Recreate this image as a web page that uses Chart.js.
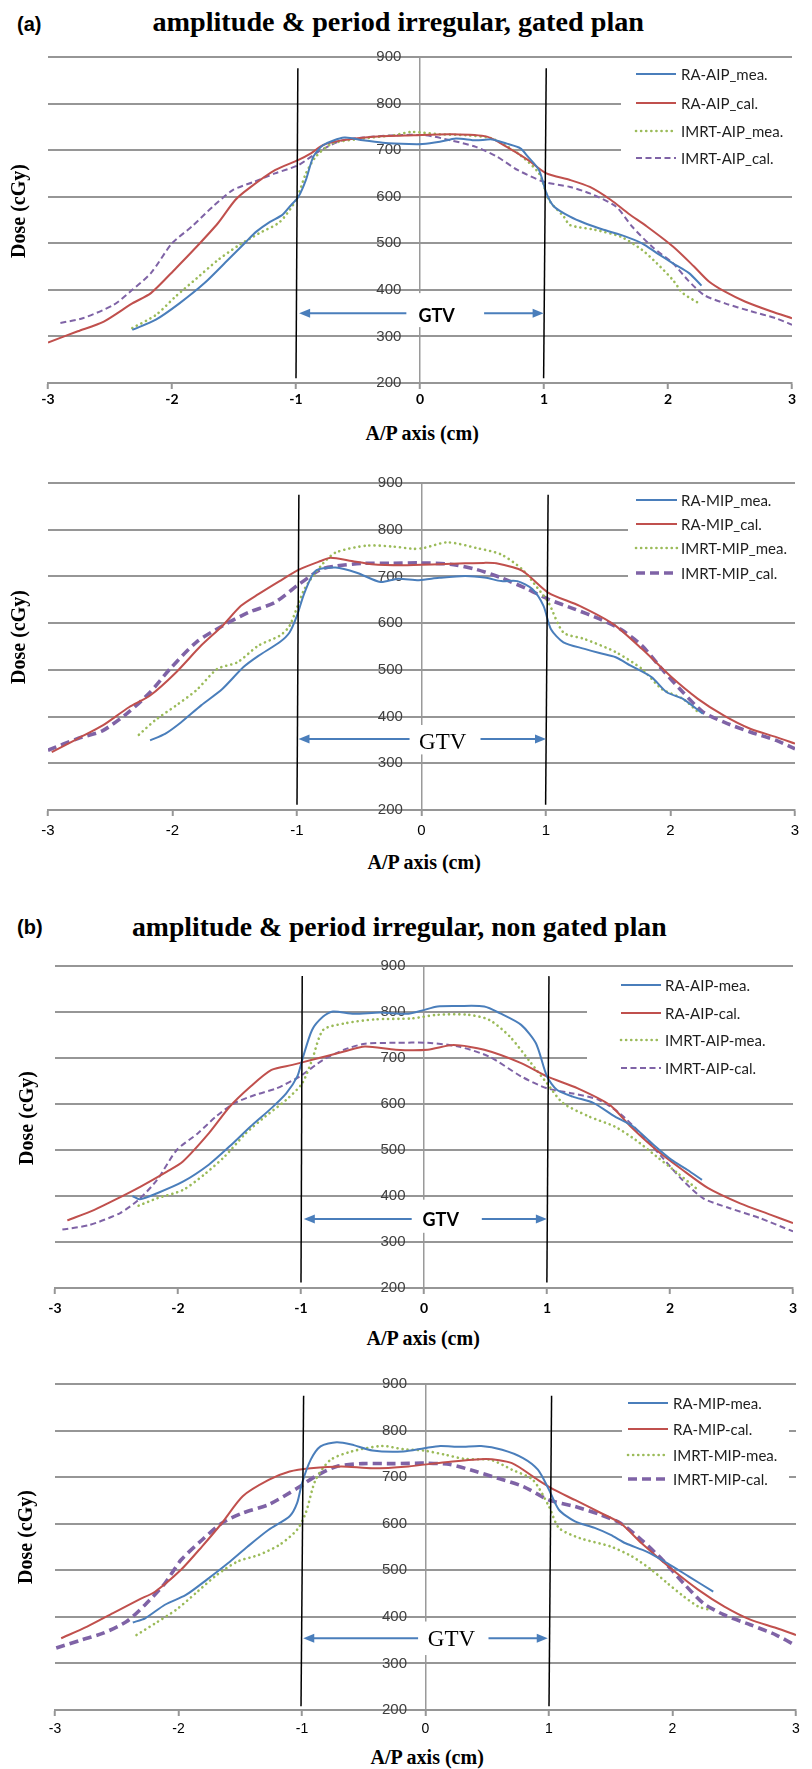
<!DOCTYPE html>
<html><head><meta charset="utf-8">
<script src="https://cdn.jsdelivr.net/npm/chart.js@4.4.0/dist/chart.umd.min.js"></script>
<style>
html,body{margin:0;padding:0;background:#fff;}
#page{position:relative;width:812px;height:1769px;overflow:hidden;background:#fff;}
canvas{position:absolute;left:0;}
.lbl{position:absolute;white-space:nowrap;color:#000;line-height:1;}
.tag{font-family:"Liberation Sans",Arial,sans-serif;font-weight:bold;font-size:20px;}
.title{font-family:"Liberation Serif","Times New Roman",serif;font-weight:bold;font-size:28px;}
.axt{font-family:"Liberation Serif","Times New Roman",serif;font-weight:bold;font-size:20px;}
</style></head>
<body><div id="page"></div>
<script>
// ---------- tick labels ----------
const xTickValues = [-3, -2, -1, 0, 1, 2, 3];
const yTickValues = [200, 300, 400, 500, 600, 700, 800, 900];

// ---------- series names ----------
const labelsA1 = ['RA-AIP_mea.', 'RA-AIP_cal.', 'IMRT-AIP_mea.', 'IMRT-AIP_cal.'];
const labelsA2 = ['RA-MIP_mea.', 'RA-MIP_cal.', 'IMRT-MIP_mea.', 'IMRT-MIP_cal.'];
const labelsB1 = ['RA-AIP-mea.', 'RA-AIP-cal.', 'IMRT-AIP-mea.', 'IMRT-AIP-cal.'];
const labelsB2 = ['RA-MIP-mea.', 'RA-MIP-cal.', 'IMRT-MIP-mea.', 'IMRT-MIP-cal.'];

// ---------- (a) gated, AIP : [position cm, dose cGy] ----------
const a1Blue = [[-2.32,314],[-2.13,336],[-1.94,371],[-1.74,414],[-1.55,464],[-1.40,504],[-1.32,525],[-1.21,546],[-1.11,561],[-1.05,579],[-0.98,600],[-0.92,636],[-0.86,686],[-0.78,711],[-0.61,727],[-0.46,721],[-0.30,716],[-0.09,713],[0.02,713],[0.16,718],[0.29,725],[0.45,721],[0.58,723],[0.70,714],[0.81,704],[0.87,686],[0.96,657],[1.02,607],[1.08,579],[1.21,557],[1.33,543],[1.48,529],[1.62,518],[1.79,500],[1.91,479],[2.04,457],[2.17,436],[2.27,409]];
const a1Red = [[-3.0,287],[-2.76,311],[-2.55,332],[-2.32,371],[-2.17,393],[-1.97,446],[-1.80,493],[-1.63,543],[-1.49,593],[-1.38,618],[-1.17,657],[-0.98,679],[-0.88,693],[-0.78,711],[-0.63,721],[-0.38,729],[-0.05,732],[0.25,734],[0.54,729],[0.70,707],[0.87,679],[1.02,650],[1.21,636],[1.37,621],[1.54,593],[1.68,564],[1.83,536],[2.04,493],[2.21,450],[2.33,418],[2.46,396],[2.62,375],[2.83,354],[3.0,339]];
const a1Green = [[-2.32,318],[-2.13,346],[-1.97,386],[-1.80,425],[-1.63,464],[-1.46,496],[-1.30,521],[-1.13,546],[-1.0,593],[-0.92,650],[-0.84,686],[-0.71,714],[-0.46,725],[-0.21,732],[-0.07,739],[0.16,734],[0.37,732],[0.58,725],[0.79,693],[0.96,650],[1.04,593],[1.16,557],[1.21,539],[1.41,529],[1.62,514],[1.79,486],[1.91,457],[2.04,421],[2.12,393],[2.25,371]];
const a1Purple = [[-2.90,329],[-2.72,339],[-2.47,368],[-2.32,400],[-2.17,436],[-2.0,500],[-1.84,536],[-1.67,579],[-1.51,614],[-1.34,632],[-1.17,650],[-0.98,668],[-0.80,700],[-0.63,721],[-0.46,727],[-0.21,732],[0.04,732],[0.25,721],[0.45,707],[0.62,686],[0.79,657],[1.0,632],[1.21,621],[1.37,607],[1.58,579],[1.71,536],[1.87,493],[2.04,457],[2.16,421],[2.29,389],[2.46,371],[2.67,354],[2.87,339],[3.0,325]];

// ---------- (a) gated, MIP ----------
const a2Blue = [[-2.18,349],[-2.06,363],[-1.93,388],[-1.77,424],[-1.60,459],[-1.43,506],[-1.31,530],[-1.14,559],[-1.06,580],[-1.0,616],[-0.94,665],[-0.85,712],[-0.69,719],[-0.52,708],[-0.33,688],[-0.19,695],[-0.02,692],[0.14,697],[0.35,701],[0.52,697],[0.64,690],[0.77,690],[0.89,673],[0.98,637],[1.04,587],[1.14,559],[1.31,545],[1.43,536],[1.56,527],[1.68,509],[1.85,484],[1.97,452],[2.10,438],[2.26,406]];
const a2Red = [[-2.97,324],[-2.76,353],[-2.56,381],[-2.35,420],[-2.18,445],[-1.97,495],[-1.77,552],[-1.60,594],[-1.45,637],[-1.31,662],[-1.14,690],[-0.98,715],[-0.81,733],[-0.73,740],[-0.56,733],[-0.40,726],[-0.15,724],[0.14,726],[0.35,728],[0.50,729],[0.60,728],[0.81,712],[1.02,665],[1.27,637],[1.54,598],[1.77,545],[2.01,484],[2.22,438],[2.43,402],[2.64,374],[2.85,356],[3.0,342]];
const a2Green = [[-2.27,361],[-2.14,392],[-1.97,424],[-1.81,456],[-1.64,502],[-1.48,516],[-1.31,552],[-1.14,573],[-1.06,594],[-0.94,673],[-0.81,722],[-0.69,751],[-0.44,766],[-0.23,764],[-0.06,759],[0.02,761],[0.21,773],[0.44,761],[0.64,747],[0.81,715],[0.93,676],[1.02,644],[1.14,580],[1.31,566],[1.56,538],[1.77,502],[1.93,459],[2.10,438],[2.22,410]];
const a2Purple = [[-3.0,328],[-2.76,353],[-2.56,370],[-2.35,410],[-2.18,452],[-2.02,502],[-1.81,559],[-1.60,594],[-1.39,623],[-1.18,644],[-1.0,680],[-0.81,715],[-0.69,722],[-0.48,728],[-0.23,728],[-0.02,729],[0.23,726],[0.44,715],[0.64,697],[0.85,673],[1.02,651],[1.23,630],[1.43,609],[1.60,587],[1.77,552],[1.93,502],[2.10,452],[2.26,410],[2.43,388],[2.64,367],[2.85,349],[3.0,331]];

// ---------- (b) non gated, AIP ----------
const b1Blue = [[-2.37,400],[-2.31,393],[-2.17,406],[-1.96,431],[-1.75,468],[-1.58,508],[-1.41,551],[-1.24,591],[-1.12,623],[-1.03,660],[-0.99,696],[-0.91,761],[-0.82,790],[-0.74,801],[-0.57,796],[-0.36,799],[-0.14,796],[-0.02,803],[0.11,812],[0.28,813],[0.49,812],[0.62,797],[0.79,772],[0.91,732],[1.0,660],[1.08,631],[1.21,616],[1.38,602],[1.55,573],[1.70,551],[1.85,515],[2.01,479],[2.14,457],[2.26,435]];
const b1Red = [[-2.90,347],[-2.68,370],[-2.51,392],[-2.30,421],[-2.09,453],[-1.96,475],[-1.75,536],[-1.58,594],[-1.41,638],[-1.24,674],[-1.07,685],[-0.91,696],[-0.65,714],[-0.48,725],[-0.23,718],[0.03,718],[0.24,728],[0.49,718],[0.79,689],[1.0,660],[1.25,634],[1.51,598],[1.68,551],[1.89,500],[2.10,457],[2.31,417],[2.57,384],[2.82,359],[3.0,341]];
const b1Green = [[-2.32,379],[-2.17,395],[-1.96,413],[-1.79,446],[-1.62,486],[-1.45,536],[-1.29,573],[-1.12,609],[-0.99,645],[-0.91,696],[-0.82,761],[-0.65,775],[-0.40,784],[-0.10,786],[0.11,794],[0.36,794],[0.53,783],[0.70,746],[0.87,689],[1.0,645],[1.13,602],[1.34,573],[1.55,551],[1.72,522],[1.89,486],[2.06,450],[2.23,413]];
const b1Purple = [[-2.94,327],[-2.72,337],[-2.47,363],[-2.32,392],[-2.17,435],[-2.01,500],[-1.84,536],[-1.69,573],[-1.54,602],[-1.37,620],[-1.20,634],[-1.01,660],[-0.82,696],[-0.65,718],[-0.48,731],[-0.23,733],[0.03,733],[0.28,725],[0.53,703],[0.79,660],[1.0,634],[1.21,623],[1.42,609],[1.59,580],[1.76,536],[1.93,486],[2.10,435],[2.27,395],[2.48,374],[2.73,352],[3.0,323]];

// ---------- (b) non gated, MIP ----------
const b2Blue = [[-2.37,388],[-2.27,397],[-2.11,426],[-1.94,447],[-1.77,480],[-1.60,515],[-1.44,551],[-1.27,587],[-1.10,616],[-1.04,644],[-1.0,687],[-0.93,737],[-0.85,766],[-0.72,775],[-0.60,770],[-0.43,757],[-0.18,755],[-0.01,762],[0.12,767],[0.28,765],[0.45,767],[0.62,759],[0.79,741],[0.91,716],[1.0,673],[1.08,630],[1.21,605],[1.37,591],[1.50,576],[1.62,558],[1.79,540],[1.96,515],[2.13,487],[2.33,454]];
const b2Red = [[-2.95,354],[-2.74,379],[-2.53,408],[-2.32,437],[-2.19,454],[-1.98,501],[-1.81,551],[-1.65,601],[-1.48,659],[-1.27,694],[-1.10,712],[-0.93,719],[-0.68,723],[-0.43,719],[-0.14,723],[0.16,732],[0.49,739],[0.70,730],[0.91,694],[1.04,673],[1.21,651],[1.42,623],[1.58,601],[1.75,558],[2.0,501],[2.21,458],[2.42,422],[2.63,394],[2.84,376],[3.0,361]];
const b2Green = [[-2.34,361],[-2.19,386],[-2.02,415],[-1.86,451],[-1.69,490],[-1.52,519],[-1.35,533],[-1.18,555],[-1.04,587],[-0.97,623],[-0.89,694],[-0.77,737],[-0.60,755],[-0.35,767],[-0.18,760],[-0.01,757],[0.16,748],[0.32,739],[0.53,737],[0.70,716],[0.87,694],[1.0,637],[1.08,591],[1.25,569],[1.50,551],[1.67,530],[1.83,501],[1.96,472],[2.09,444],[2.21,422],[2.30,415]];
const b2Purple = [[-2.99,333],[-2.78,351],[-2.61,365],[-2.42,390],[-2.27,426],[-2.11,472],[-1.98,522],[-1.81,565],[-1.65,601],[-1.48,623],[-1.27,641],[-1.04,676],[-0.89,702],[-0.72,723],[-0.51,729],[-0.26,729],[-0.01,730],[0.20,727],[0.41,712],[0.58,698],[0.79,680],[1.0,651],[1.21,637],[1.42,619],[1.58,601],[1.75,565],[1.92,522],[2.09,472],[2.25,429],[2.42,404],[2.63,383],[2.84,361],[3.0,338]];

// ---------- GTV markers: [x top, dose top, x bottom, dose bottom] ----------
const a1Lines = [[-0.985,876,-1.0,210],[1.018,876,0.997,210]];
const a2Lines = [[-0.985,875,-1.0,211],[1.017,875,0.997,211]];
const b1Lines = [[-0.99,878,-1.0,212],[1.016,878,0.999,212]];
const b2Lines = [[-0.987,875,-1.008,208],[1.021,875,1.0,208]];
// arrow [x from, x to, dose]; label box [x1,x2,dose1,dose2]; label [x, dose]
const a1Arrow = [-0.975, 0.997, 350], a1Box = [-0.11, 0.517, 320, 393], a1Text = [0.134, 344];
const a2Arrow = [-0.988, 1.0, 352],  a2Box = [-0.096, 0.474, 319, 382], a2Text = [0.17, 344];
const b1Arrow = [-0.977, 0.999, 350], b1Box = [-0.1, 0.47, 320, 392], b1Text = [0.136, 348];
const b2Arrow = [-0.99, 0.99, 354],  b2Box = [-0.06, 0.51, 318, 390], b2Text = [0.21, 351];

// ---------- styles ----------
const seriesColors = ['#4a7ebb', '#c0504d', '#9bbb59', '#7f63a6'];
const NARROW = '"Liberation Sans Narrow","Arial Narrow","Liberation Sans",Arial,sans-serif';
const page = document.getElementById('page');

const annot = {
  id: 'annot',
  beforeDatasetsDraw(chart, args, o) {
    // white legend background hides the gridlines only
    const {ctx} = chart, L = o.legend, t = chart.canvas.offsetTop;
    ctx.save();
    ctx.fillStyle = '#fff';
    ctx.fillRect(L.box[0], L.box[2] - t, L.box[1] - L.box[0], L.box[3] - L.box[2]);
    ctx.restore();
  },
  afterDatasetsDraw(chart, args, o) {
    const {ctx, scales: {x, y}} = chart;
    const X = v => x.getPixelForValue(v), Y = v => y.getPixelForValue(v);
    ctx.save();
    // vertical GTV limits
    ctx.strokeStyle = '#000'; ctx.lineWidth = 1.5;
    o.lines.forEach(l => { ctx.beginPath(); ctx.moveTo(X(l[0]), Y(l[1])); ctx.lineTo(X(l[2]), Y(l[3])); ctx.stroke(); });
    // double arrow
    const x1 = X(o.arrow[0]), x2 = X(o.arrow[1]), ay = Y(o.arrow[2]);
    ctx.strokeStyle = ctx.fillStyle = '#4a7ebb'; ctx.lineWidth = 2;
    ctx.beginPath(); ctx.moveTo(x1 + 8, ay); ctx.lineTo(x2 - 8, ay); ctx.stroke();
    ctx.beginPath(); ctx.moveTo(x1, ay); ctx.lineTo(x1 + 11, ay - 4.5); ctx.lineTo(x1 + 11, ay + 4.5); ctx.closePath(); ctx.fill();
    ctx.beginPath(); ctx.moveTo(x2, ay); ctx.lineTo(x2 - 11, ay - 4.5); ctx.lineTo(x2 - 11, ay + 4.5); ctx.closePath(); ctx.fill();
    // label box + label
    ctx.fillStyle = '#fff';
    ctx.fillRect(X(o.box[0]), Y(o.box[3]), X(o.box[1]) - X(o.box[0]), Y(o.box[2]) - Y(o.box[3]));
    ctx.fillStyle = '#000'; ctx.font = o.gtvFont; ctx.textAlign = 'center'; ctx.textBaseline = 'middle';
    ctx.fillText('GTV', X(o.text[0]), Y(o.text[1]));
    // legend entries
    const L = o.legend, t = chart.canvas.offsetTop;
    ctx.font = L.font; ctx.textAlign = 'left'; ctx.textBaseline = 'middle';
    chart.data.datasets.forEach((ds, i) => {
      const ry = L.rows[i] - t;
      ctx.save();
      ctx.strokeStyle = ds.borderColor; ctx.lineWidth = ds.borderWidth;
      ctx.setLineDash(ds.borderDash || []); ctx.lineCap = ds.borderCapStyle || 'butt';
      ctx.beginPath(); ctx.moveTo(L.line[0], ry); ctx.lineTo(L.line[1], ry); ctx.stroke();
      ctx.restore();
      ctx.fillStyle = '#1e1e1e';
      ctx.fillText(ds.label, L.textX, ry + 1);
    });
    ctx.restore();
  }
};

function makePanel(c) {
  const cv = document.createElement('canvas');
  cv.width = 812; cv.height = c.h; cv.style.top = c.top + 'px';
  page.appendChild(cv);
  const widths = [2, 2, 2.6, c.thick ? 3.6 : 2];
  const dashes = [[], [], [0.1, 5], c.thick ? [9, 5] : [6, 3.5]];
  const caps = ['butt', 'butt', 'round', 'butt'];
  new Chart(cv, {
    type: 'line',
    data: {
      datasets: c.series.map((pts, i) => ({
        label: c.labels[i],
        data: pts.map(p => ({x: p[0], y: p[1]})),
        borderColor: seriesColors[i], borderWidth: widths[i], borderDash: dashes[i],
        borderCapStyle: caps[i], pointRadius: 0, tension: 0.25, fill: false
      }))
    },
    options: {
      responsive: false, animation: false, devicePixelRatio: 1,
      layout: {padding: {left: c.left, right: c.right, top: c.padTop, bottom: 0}},
      plugins: {
        legend: {display: false}, tooltip: {enabled: false},
        annot: {lines: c.lines, arrow: c.arrow, box: c.box, text: c.text, gtvFont: c.gtvFont, legend: c.legend}
      },
      scales: {
        x: {
          type: 'linear', min: -3, max: 3, position: 'bottom',
          afterBuildTicks: s => { s.ticks = xTickValues.map(v => ({value: v})); },
          afterFit: s => { s.height = 27; },
          grid: {
            drawOnChartArea: true, drawTicks: true, tickLength: 6,
            color: ctx => (ctx.tick && ctx.tick.value === 0) ? '#9a9a9a' : 'rgba(0,0,0,0)',
            lineWidth: 1.5, tickColor: '#969696', tickWidth: 2
          },
          border: {display: true, color: '#969696', width: 2},
          ticks: {padding: c.xPad, color: '#000', font: c.xFont, maxRotation: 0, autoSkip: false}
        },
        y: {
          type: 'linear', min: 200, max: 900, position: {x: -0.15},
          afterBuildTicks: s => { s.ticks = yTickValues.map(v => ({value: v})); },
          afterFit: s => { s.width = 0; },
          grid: {color: '#969696', lineWidth: 2, drawTicks: false},
          border: {display: false},
          ticks: {padding: 0, color: '#404040', font: {family: NARROW, size: 15}}
        }
      }
    },
    plugins: [annot]
  });
}

function place(text, cls, cx, cy, opt) {
  opt = opt || {};
  const d = document.createElement('div');
  d.className = 'lbl ' + cls; d.textContent = text; page.appendChild(d);
  const w = d.offsetWidth, h = d.offsetHeight;
  let sx = opt.width ? opt.width / w : 1;
  if (opt.left !== undefined) cx = opt.left + w * sx / 2;
  d.style.left = (cx - w / 2) + 'px'; d.style.top = (cy - h / 2) + 'px';
  let tr = '';
  if (opt.rotate) tr += 'rotate(-90deg) ';
  if (sx !== 1) tr += 'scaleX(' + sx + ')';
  if (tr) d.style.transform = tr;
}

const boldX = {family: 'Lato,"Liberation Sans",sans-serif', size: 14, weight: 'bold'};
const gtvBold = 'bold 18px Lato, "Liberation Sans", sans-serif';
const gtvSerif = '23px "Liberation Serif", "Times New Roman", serif';
const legFont = '15px Lato, "Liberation Sans", sans-serif';

makePanel({top: 40, h: 370, left: 48, right: 20, padTop: 17, series: [a1Blue, a1Red, a1Green, a1Purple], labels: labelsA1,
  lines: a1Lines, arrow: a1Arrow, box: a1Box, text: a1Text, gtvFont: gtvBold, thick: false, xFont: boldX, xPad: 2,
  legend: {rows: [74, 103, 131, 158], line: [636, 676], textX: 681, box: [621, 793, 60, 192], font: legFont}});
makePanel({top: 460, h: 377, left: 48, right: 17, padTop: 23, series: [a2Blue, a2Red, a2Green, a2Purple], labels: labelsA2,
  lines: a2Lines, arrow: a2Arrow, box: a2Box, text: a2Text, gtvFont: gtvSerif, thick: true, xFont: {family: NARROW, size: 15}, xPad: 6,
  legend: {rows: [500, 524, 548, 573], line: [636, 677], textX: 681, box: [628, 795, 487, 602], font: legFont}});
makePanel({top: 945, h: 370, left: 55, right: 19, padTop: 21, series: [b1Blue, b1Red, b1Green, b1Purple], labels: labelsB1,
  lines: b1Lines, arrow: b1Arrow, box: b1Box, text: b1Text, gtvFont: gtvBold, thick: false, xFont: boldX, xPad: 6,
  legend: {rows: [985, 1013, 1040, 1068], line: [621, 661], textX: 665, box: [587, 793, 970, 1085], font: legFont}});
makePanel({top: 1360, h: 377, left: 55, right: 16, padTop: 24, series: [b2Blue, b2Red, b2Green, b2Purple], labels: labelsB2,
  lines: b2Lines, arrow: b2Arrow, box: b2Box, text: b2Text, gtvFont: gtvSerif, thick: true, xFont: {family: NARROW, size: 14}, xPad: 5,
  legend: {rows: [1403, 1429, 1455, 1479], line: [628, 668], textX: 673, box: [622, 789, 1388, 1505], font: legFont}});

// ---------- texts ----------
place('(a)', 'tag', 0, 24, {left: 17});
place('amplitude & period irregular, gated plan', 'title', 0, 22, {left: 152, width: 491});
place('(b)', 'tag', 0, 927, {left: 17});
place('amplitude & period irregular, non gated plan', 'title', 0, 927, {left: 132, width: 535});
place('A/P axis (cm)', 'axt', 422, 433);
place('A/P axis (cm)', 'axt', 424, 862);
place('A/P axis (cm)', 'axt', 423, 1338);
place('A/P axis (cm)', 'axt', 427, 1757);
place('Dose (cGy)', 'axt', 18, 211, {rotate: true});
place('Dose (cGy)', 'axt', 18, 637, {rotate: true});
place('Dose (cGy)', 'axt', 26, 1118, {rotate: true});
place('Dose (cGy)', 'axt', 25, 1537, {rotate: true});
</script>
</body></html>
